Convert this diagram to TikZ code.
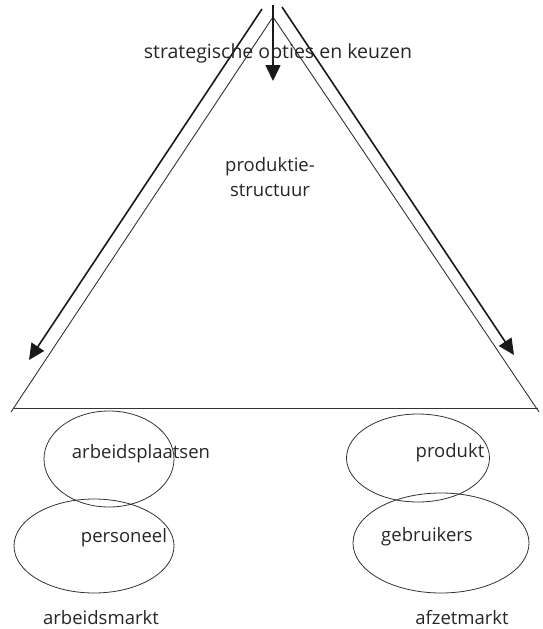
\documentclass[tikz,border=0pt]{standalone}
\usepackage{fontspec}
\setmainfont{Open Sans}
\usetikzlibrary{arrows.meta,shapes.geometric}
\begin{document}
\begin{tikzpicture}[x=1pt,y=-1pt,
  lbl/.style={font=\fontsize{18.5}{22}\selectfont, text=black!85, inner sep=0pt},
  tri/.style={draw=black!80, line width=0.9pt},
  arr/.style={draw=black!90, line width=1.6pt, -{Triangle[length=16pt,width=15pt]}},
  oval/.style={ellipse, draw=black!80, line width=0.8pt, inner sep=0pt}]
\useasboundingbox (0,0) rectangle (542,629);
% triangle
\coordinate (apex) at (273,17);
\coordinate (bl) at (11,412);
\coordinate (br) at (539,412);
\coordinate (bbl) at (14,408);
\coordinate (bbr) at (538,408);
\draw[tri] (bl) -- (apex) -- (br);
\draw[tri] (bbl) -- (bbr);
% arrows
\coordinate (la0) at (262,9);
\coordinate (la1) at (29,360);
\coordinate (ra0) at (282,7);
\coordinate (ra1) at (514,355);
\coordinate (ma0) at (273,5);
\coordinate (ma1) at (273,81);
\draw[arr] (la0) -- (la1);
\draw[arr] (ra0) -- (ra1);
\draw[arr] (ma0) -- (ma1);
% labels
\node[lbl, font=\fontsize{19.5}{23}\selectfont] (strat) at (278,53) {strategische opties en keuzen};
\node[lbl] (prod1) at (270,167) {produktie-};
\node[lbl] (prod2) at (270,190) {structuur};
% ellipses
\node[oval, minimum width=130pt, minimum height=96pt] (e1) at (109,459) {};
\node[oval, minimum width=160pt, minimum height=94pt] (e2) at (94,546) {};
\node[oval, minimum width=143pt, minimum height=88pt] (e3) at (418,458) {};
\node[oval, minimum width=176pt, minimum height=100pt] (e4) at (441,543) {};
\node[lbl] (t1) at (141,454) {arbeidsplaatsen};
\node[lbl] (t2) at (124,538) {personeel};
\node[lbl] (t3) at (450,453) {produkt};
\node[lbl] (t4) at (427,537) {gebruikers};
\node[lbl] (t5) at (101,618) {arbeidsmarkt};
\node[lbl] (t6) at (462,618) {afzetmarkt};
\end{tikzpicture}
\end{document}
